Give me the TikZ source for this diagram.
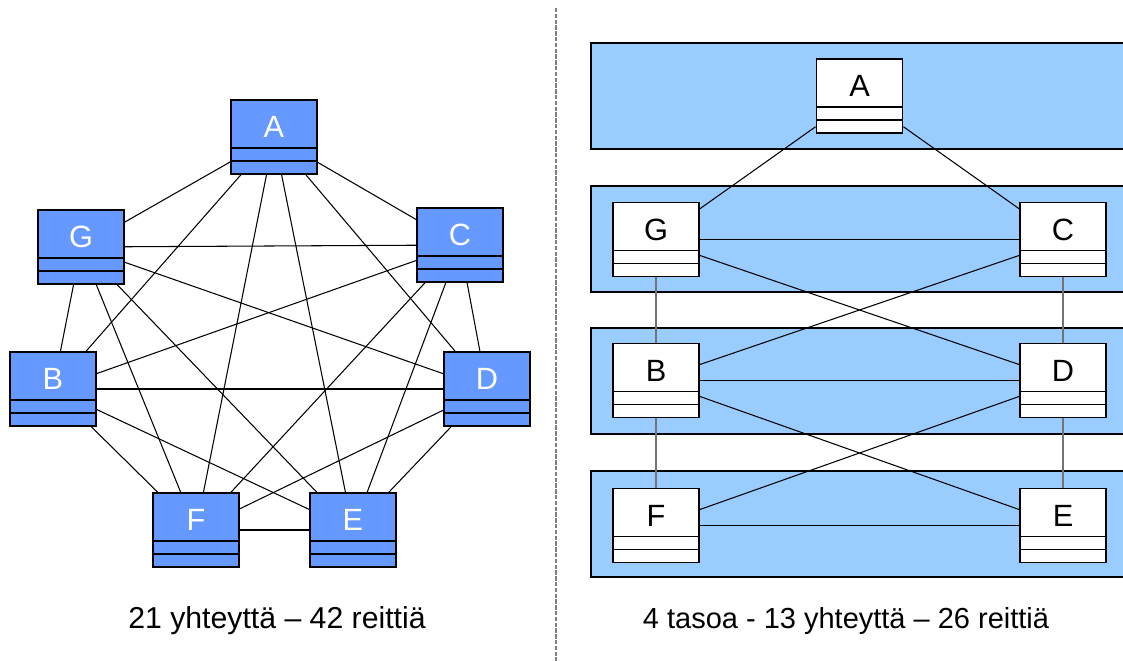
\documentclass[tikz,border=0pt]{standalone}
\usepackage{fontspec}
\setmainfont{Liberation Sans}

\definecolor{classblue}{RGB}{102,153,255}
\definecolor{tierblue}{RGB}{153,204,255}

\tikzset{
  cls/.style={draw, line width=1.1pt, inner sep=0pt, minimum width=1.72cm,
    text height=0.76cm, text depth=0.72cm, font=\fontsize{17.5}{19}\selectfont,
    path picture={
      \draw[line width=1.1pt] ([yshift=0.52cm]path picture bounding box.south west)
        -- ([yshift=0.52cm]path picture bounding box.south east);
      \draw[line width=1.1pt] ([yshift=0.26cm]path picture bounding box.south west)
        -- ([yshift=0.26cm]path picture bounding box.south east);}},
  bluecls/.style={cls, fill=classblue, text=white},
  whitecls/.style={cls, fill=white},
  tier/.style={draw, line width=1.1pt, fill=tierblue},
  link/.style={line width=0.6pt},
  uplink/.style={line width=1pt, draw=black!55},
  caption/.style={anchor=base, font=\fontsize{17.2}{20}\selectfont}
}

\begin{document}
\begin{tikzpicture}[x=0.02cm, y=-0.02cm]
  \clip (0,0) rectangle (1123,661);

  % left: everything connected to everything
  \node[bluecls] (A) at (274,137) {A};
  \node[bluecls] (G) at (81,247)  {G};
  \node[bluecls] (C) at (460,245) {C};
  \node[bluecls] (B) at (53,389)  {B};
  \node[bluecls] (D) at (487,389) {D};
  \node[bluecls] (F) at (196,530) {F};
  \node[bluecls] (E) at (353,530) {E};

  \draw[link] (A) -- (G); \draw[link] (A) -- (C); \draw[link] (A) -- (B);
  \draw[link] (A) -- (D); \draw[link] (A) -- (F); \draw[link] (A) -- (E);
  \draw[link] (G) -- (C); \draw[link] (G) -- (B); \draw[link] (G) -- (D);
  \draw[link] (G) -- (F); \draw[link] (G) -- (E);
  \draw[link] (C) -- (B); \draw[link] (C) -- (D); \draw[link] (C) -- (F);
  \draw[link] (C) -- (E);
  \draw[link] (B) -- (D); \draw[link] (B) -- (F); \draw[link] (B) -- (E);
  \draw[link] (D) -- (F); \draw[link] (D) -- (E);
  \draw[link] (F) -- (E);

  \node[caption] (leftcap) at (277,629) {21 yhteyttä – 42 reittiä};

  % separator
  \draw[gray, line width=0.6pt, dash pattern=on 2.5pt off 0.8pt] (556,8) -- (556,661);

  % right: layered
  \draw[tier] (591,43)  rectangle (1130,149);
  \draw[tier] (591,186) rectangle (1130,292);
  \draw[tier] (591,328) rectangle (1130,434);
  \draw[tier] (591,471) rectangle (1130,577);

  \node[whitecls] (rA) at (859.5,96)  {A};
  \node[whitecls] (rG) at (656,239.5) {G};
  \node[whitecls] (rC) at (1063,239.5) {C};
  \node[whitecls] (rB) at (656,380.5) {B};
  \node[whitecls] (rD) at (1063,380.5) {D};
  \node[whitecls] (rF) at (656,525.5) {F};
  \node[whitecls] (rE) at (1063,525.5) {E};

  \draw[link] (rA.215) -- (rG.35);
  \draw[link] (rA.-35) -- (rC.145);
  \draw[link] (rG) -- (rC);
  \draw[link] (rG.-20) -- (rD.160);
  \draw[link] (rB.20) -- (rC.-160);
  \draw[link] (rB) -- (rD);
  \draw[link] (rB.-20) -- (rE.160);
  \draw[link] (rD.-160) -- (rF.20);
  \draw[link] (rF) -- (rE);
  \draw[uplink] (rG) -- (rB);
  \draw[uplink] (rB) -- (rF);
  \draw[uplink] (rC) -- (rD);
  \draw[uplink] (rD) -- (rE);

  \node[caption, font=\fontsize{16.5}{20}\selectfont] (rightcap) at (846,629) {4 tasoa - 13 yhteyttä – 26 reittiä};
\end{tikzpicture}
\end{document}
